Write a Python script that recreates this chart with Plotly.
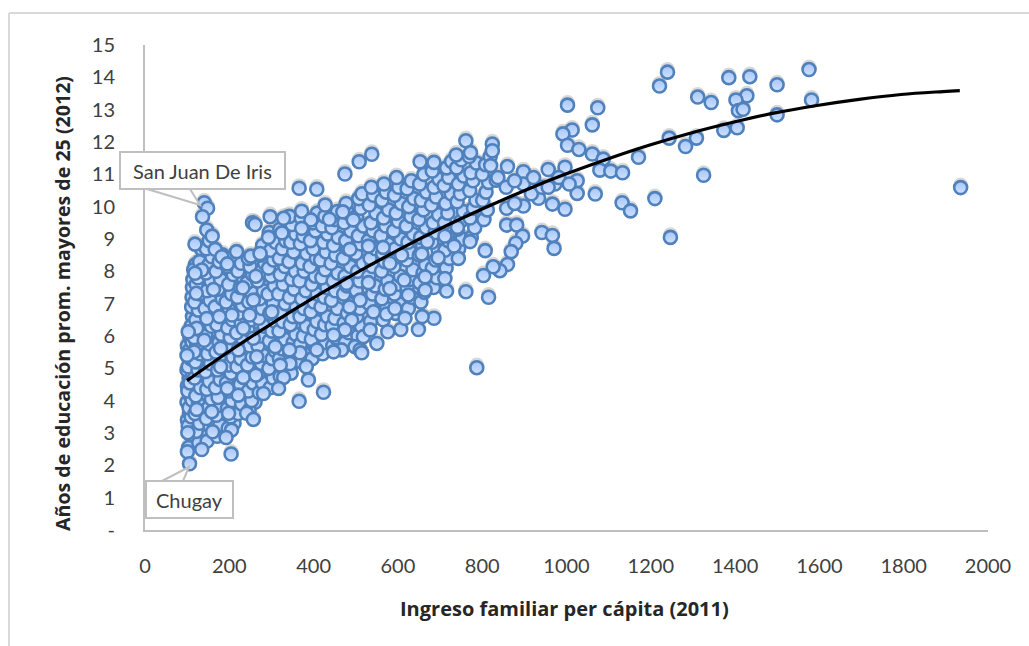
import plotly.graph_objects as go

# Points, grouped by region: (income, schooling)
right_tail = [(1244,14.16),(1225,13.73),(1390,13.99),(1440,14.02),(1505,13.77),(1581,14.24),(1316,13.39),(1348,13.22),(1433,13.43),(1407,13.3),(1413,12.97),(1424,13.01),(1587,13.3),(1505,12.84),(1248,12.12),(1313,12.12),(1287,11.86),(1378,12.36),(1410,12.44),(1175,11.53),(1137,11.05),(1330,10.97),(1136,10.12),(1156,9.87),(1214,10.25),(1251,9.05),(1942,10.59)]
mid_edge = [(1006,13.14),(1078,13.06),(1065,12.53),(1017,12.37),(995,12.25),(1006,11.9),(1033,11.77),(1065,11.63),(1091,11.47),(1083,11.13),(1109,11.1),(1029,10.8),(1029,10.41),(1072,10.39),(1000,9.92),(970,10.08),(937,10.26),(901,10.02),(861,9.95),(861,9.43),(885,9.43),(899,9.09),(883,8.87),(945,9.2),(970,9.11),(974,8.71),(872,8.61),(863,8.21),(845,8.02),(829,8.14),(806,7.87),(810,8.64),(818,7.2),(764,7.37),(790,5.02),(718,7.39),(714,7.78),(688,6.55),(660,6.6),(651,6.2),(609,6.2),(578,6.13),(536,6.19),(552,5.77),(516,5.48),(619,6.55),(764,12.04),(827,11.94),(827,11.73),(741,11.6),(775,11.67),(655,11.39),(688,11.37),(540,11.62),(510,11.39),(476,11.01),(863,11.24),(901,11.08),(960,11.15),(1000,11.22),(823,11.27),(836,10.82),(976,10.7),(901,10.7),(840,10.9),(860,10.6),(880,10.8),(920,10.4),(945,10.6),(985,10.9),(1010,10.7),(880,10.1),(925,10.9),(960,10.6)]
left_edge = [(141,10.12),(149,9.95),(137,9.69),(147,9.28),(160,9.09),(119,8.84),(167,8.68),(183,8.45),(218,8.61),(252,8.47),(274,8.55),(196,8.23),(264,7.85),(233,7.49),(258,7.11),(135,8.04),(119,7.94),(122,7.32),(163,7.44),(207,6.65),(249,6.65),(147,6.54),(177,6.6),(302,6.75),(123,6.24),(103,6.13),(234,6.24),(141,5.87),(180,5.62),(222,5.57),(117,5.51),(266,5.36),(180,5.05),(100,5.4),(234,4.72),(264,4.79),(330,4.72),(310,5.67),(389,4.64),(318,4.38),(282,4.22),(196,4.38),(222,4.17),(425,4.26),(367,3.98),(123,3.73),(159,3.66),(199,3.61),(242,3.61),(258,3.42),(206,3.09),(193,2.86),(161,3.04),(102,3.01),(135,2.49),(101,2.42),(205,2.35),(106,2.05),(256,9.5),(298,9.69),(330,9.64),(373,9.86),(367,10.57),(409,10.54),(429,10.05),(294,9.05),(326,9.19),(395,9.59),(373,9.33),(439,9.61),(471,9.84),(496,9.59),(262,9.45)]
left_extra = [(101,3.4),(106,3.62),(100,3.95),(108,4.15),(101,4.45),(105,4.7),(100,4.95),(108,5.18),(101,5.7),(107,5.95),(115,6.35),(113,6.6),(111,6.9),(112,7.2),(113,7.5),(114,7.75),(120,8.2),(115,3.1),(116,3.4),(115,3.9),(116,4.3),(114,4.6),(115,5.0),(116,5.35),(114,5.6),(136,3.0),(138,3.55),(137,3.95),(139,4.25),(136,4.7),(138,5.05),(137,5.35),(139,5.65),(135,6.1),(137,6.4),(138,6.7),(136,7.0),(139,7.25),(137,7.6),(140,7.85),(138,8.25),(140,8.55),(134,8.7),(163,3.35),(165,3.75),(162,4.2),(164,4.5),(163,4.85),(165,5.3),(162,5.6),(164,5.95),(163,6.2),(165,6.75),(162,7.05),(164,7.3),(163,7.9),(165,8.2),(188,3.4),(187,3.9),(189,4.3),(187,4.8),(188,5.4),(189,5.9),(187,6.4),(188,6.75),(189,7.3),(187,7.65),(188,8.05),(212,3.3),(213,3.75),(214,4.15),(212,4.6),(214,5.0),(213,5.45),(212,5.85),(214,6.3),(213,6.6),(212,7.1),(214,7.45),(213,7.7),(212,8.2),(238,3.75),(239,4.15),(237,4.6),(239,5.05),(238,5.5),(237,5.9),(239,6.35),(238,6.85),(237,7.15),(239,7.55),(238,8.0),(262,3.95),(263,4.4),(261,5.0),(263,5.5),(262,6.05),(261,6.6),(263,7.0),(262,7.5),(261,8.0),(263,8.3),(288,4.45),(289,4.95),(287,5.5),(289,6.0),(288,6.5),(287,7.0),(289,7.5),(288,8.05),(287,8.5),(312,4.9),(313,5.45),(315,6.0),(312,6.55),(314,7.1),(313,7.65),(315,8.2),(312,8.75),(338,5.3),(339,5.75),(337,6.3),(339,6.85),(338,7.4),(337,7.95),(339,8.5),(338,9.0),(363,5.6),(364,6.2),(362,6.75),(364,7.3),(363,7.85),(362,8.4),(364,8.95),(388,5.75),(390,6.5),(388,7.1),(389,7.65),(390,8.2),(388,8.8),(412,6.0),(414,6.6),(413,7.2),(412,7.75),(414,8.3),(413,8.9),(438,6.25),(440,6.9),(439,7.45),(438,8.0),(440,8.6),(439,9.2)]
band_100_200 = [(104,2.55),(108,2.95),(103,3.22),(110,3.5),(105,3.78),(112,4.02),(102,4.3),(107,4.55),(113,4.8),(103,5.05),(109,5.3),(105,5.55),(112,5.82),(104,6.1),(110,6.3),(128,2.7),(122,3.05),(130,3.3),(119,3.6),(127,3.9),(121,4.15),(132,4.4),(118,4.7),(126,4.95),(120,5.2),(131,5.45),(123,5.7),(117,5.95),(129,6.2),(121,6.5),(127,6.8),(118,7.05),(131,7.3),(122,7.6),(126,7.8),(116,8.05),(130,8.3),(148,2.75),(155,3.2),(146,3.45),(152,3.8),(158,4.05),(147,4.35),(153,4.6),(144,4.9),(156,5.15),(149,5.45),(154,5.75),(145,6.0),(158,6.3),(150,6.55),(143,6.85),(155,7.1),(148,7.4),(157,7.7),(145,7.95),(152,8.2),(159,8.45),(146,8.7),(153,8.95),(172,2.9),(178,3.25),(170,3.55),(181,3.85),(174,4.1),(168,4.4),(179,4.65),(173,4.95),(183,5.2),(169,5.5),(176,5.8),(182,6.05),(171,6.35),(178,6.65),(167,6.9),(184,7.15),(174,7.45),(180,7.75),(169,8.0),(177,8.3),(185,8.5)]
band_200_300 = [(198,3.15),(204,3.5),(196,3.75),(207,4.0),(200,4.3),(194,4.55),(205,4.85),(199,5.1),(209,5.35),(195,5.65),(203,5.95),(197,6.25),(208,6.5),(201,6.8),(193,7.05),(206,7.3),(199,7.6),(210,7.9),(196,8.15),(204,8.4),(222,3.6),(230,3.9),(220,4.25),(227,4.5),(233,4.8),(219,5.05),(228,5.3),(224,5.6),(234,5.85),(218,6.1),(229,6.4),(223,6.7),(232,6.95),(220,7.2),(227,7.5),(235,7.75),(221,8.0),(229,8.25),(248,3.7),(254,4.0),(246,4.3),(257,4.55),(250,4.85),(244,5.1),(255,5.35),(249,5.7),(259,5.95),(245,6.2),(252,6.5),(258,6.8),(247,7.05),(254,7.35),(243,7.65),(256,7.9),(250,8.15),(246,8.4),(272,4.25),(280,4.55),(270,4.85),(277,5.15),(283,5.4),(269,5.7),(276,6.0),(284,6.3),(271,6.55),(279,6.85),(273,7.15),(282,7.4),(268,7.7),(277,8.0),(285,8.25),(274,8.5),(280,8.8)]
band_300_500 = [(298,4.4),(305,4.7),(295,5.0),(303,5.3),(309,5.55),(296,5.85),(302,6.15),(310,6.45),(297,6.7),(305,7.0),(293,7.3),(308,7.55),(300,7.85),(294,8.1),(306,8.35),(299,8.65),(311,8.9),(296,9.2),(322,4.75),(330,5.0),(320,5.3),(327,5.6),(333,5.9),(319,6.15),(328,6.45),(323,6.75),(334,7.0),(318,7.3),(329,7.6),(322,7.9),(333,8.15),(320,8.4),(327,8.7),(335,8.95),(321,9.3),(348,4.85),(356,5.2),(345,5.45),(353,5.8),(359,6.05),(346,6.35),(352,6.6),(360,6.9),(344,7.2),(355,7.45),(349,7.75),(358,8.0),(343,8.3),(354,8.6),(347,8.9),(359,9.15),(350,9.45),(344,9.7),(372,5.2),(380,5.45),(370,5.75),(377,6.0),(384,6.3),(369,6.6),(378,6.85),(373,7.15),(383,7.4),(368,7.7),(379,8.0),(374,8.25),(385,8.55),(370,8.85),(377,9.1),(383,9.4),(372,9.65),(398,5.3),(405,5.65),(396,5.9),(403,6.2),(409,6.45),(395,6.75),(402,7.05),(410,7.3),(397,7.6),(405,7.85),(393,8.15),(408,8.4),(400,8.7),(394,8.95),(406,9.25),(399,9.5),(410,9.8),(423,5.45),(430,5.8),(420,6.05),(428,6.35),(434,6.6),(419,6.9),(427,7.2),(433,7.5),(421,7.8),(429,8.05),(418,8.35),(431,8.6),(425,8.9),(435,9.15),(422,9.4),(428,9.7),(447,5.7),(455,5.95),(445,6.3),(452,6.55),(458,6.85),(444,7.1),(453,7.4),(448,7.7),(459,7.95),(443,8.25),(454,8.5),(449,8.8),(460,9.05),(445,9.35),(452,9.6),(458,9.85),(477,5.8),(485,6.1),(474,6.4),(482,6.7),(488,7.0),(473,7.3),(481,7.55),(476,7.85),(489,8.15),(472,8.4),(483,8.7),(478,8.95),(490,9.25),(474,9.5),(484,9.8),(479,10.1)]
band_500_830 = [(507,6.0),(515,6.3),(504,6.6),(512,6.85),(518,7.15),(503,7.4),(511,7.7),(506,8.0),(519,8.25),(502,8.55),(513,8.85),(508,9.1),(520,9.4),(504,9.7),(514,9.95),(509,10.25),(517,10.4),(537,6.45),(545,6.75),(534,7.0),(542,7.3),(548,7.55),(533,7.85),(541,8.15),(536,8.4),(549,8.7),(532,8.95),(543,9.25),(538,9.5),(550,9.8),(534,10.05),(544,10.35),(539,10.6),(567,6.5),(575,6.85),(564,7.15),(572,7.45),(578,7.7),(563,8.0),(571,8.3),(566,8.55),(579,8.85),(562,9.1),(573,9.4),(568,9.65),(580,9.9),(564,10.2),(574,10.45),(569,10.7),(597,6.7),(605,7.0),(594,7.3),(602,7.6),(608,7.85),(593,8.15),(601,8.45),(596,8.7),(609,9.0),(592,9.25),(603,9.55),(598,9.8),(610,10.1),(594,10.35),(604,10.6),(599,10.9),(627,6.85),(635,7.2),(624,7.5),(632,7.75),(638,8.05),(623,8.35),(631,8.6),(626,8.9),(639,9.15),(622,9.4),(633,9.7),(628,10.0),(640,10.25),(624,10.55),(634,10.8),(657,7.05),(665,7.35),(654,7.65),(662,7.95),(668,8.2),(653,8.5),(661,8.8),(656,9.05),(669,9.35),(652,9.6),(663,9.9),(658,10.2),(670,10.45),(654,10.7),(664,11.0),(687,7.5),(695,7.8),(684,8.1),(692,8.35),(698,8.65),(683,8.9),(691,9.2),(686,9.5),(699,9.75),(682,10.05),(693,10.3),(688,10.6),(700,10.85),(684,11.1),(717,8.1),(725,8.4),(714,8.65),(722,8.95),(728,9.25),(713,9.5),(721,9.8),(716,10.1),(729,10.4),(712,10.65),(723,10.9),(718,11.2),(730,11.4),(747,8.7),(755,9.0),(744,9.3),(752,9.55),(758,9.85),(743,10.15),(751,10.4),(746,10.7),(759,10.95),(742,11.2),(753,11.45),(777,9.05),(785,9.35),(774,9.65),(782,9.95),(788,10.2),(773,10.5),(781,10.8),(776,11.05),(789,11.35),(772,11.55),(807,9.6),(815,9.9),(804,10.2),(812,10.45),(818,10.75),(803,11.0),(811,11.3),(822,11.55)]
core_over = [(744,9.36),(714,9.09),(774,8.92),(736,8.78),(672,8.92),(567,8.74),(532,8.78),(488,8.68),(659,8.54),(698,8.42),(583,8.25),(611,8.5),(746,8.4),(667,7.83),(617,7.73),(532,7.65),(583,7.47),(667,7.42),(627,7.27),(512,7.11),(480,7.63),(544,6.75),(575,6.68),(595,6.85),(492,6.49),(476,6.19),(487,6.9),(468,5.57),(500,5.67),(520,5.98),(449,6.03),(409,5.57),(449,5.51),(369,5.48),(344,5.57),(345,5.15),(384,5.05),(322,5.1),(258,5.93),(512,5.57)]

trend_x = [100,200,300,400,500,600,700,800,900,1000,1100,1200,1300,1400,1500,1600,1700,1800,1900,1940]
trend_y = [4.62,5.52,6.37,7.17,7.93,8.64,9.3,9.91,10.48,11.0,11.47,11.9,12.28,12.61,12.9,13.13,13.32,13.47,13.56,13.59]

x_ticks = [0,200,400,600,800,1000,1200,1400,1600,1800,2000]
y_ticks = list(range(0,16))
y_labels = ["-"] + [str(v) for v in range(1,16)]
x_title = "Ingreso familiar per cápita (2011)"
y_title = "Años de educación prom. mayores de 25 (2012)"

points = left_extra + band_100_200 + band_200_300 + band_300_500 + band_500_830 + core_over + left_edge + mid_edge + right_tail
READ_SCALE = 0.42 / 0.4215   # calibration of the x readings against the axis
xs = [p[0] * READ_SCALE for p in points]
ys = [p[1] for p in points]
trend_xs = [v * READ_SCALE for v in trend_x]

W, H = 1029, 646
L, R, T, B = 145, 988, 45, 530
FONT = "Lato"
GRID = "#bfbfbf"

def px(x): return (x - L) / (R - L)
def py(y): return (B - y) / (B - T)

fig = go.Figure()
# soft shadow: same data on a hidden axis whose range is shifted slightly
fig.add_trace(go.Scatter(x=xs, y=ys, mode="markers", yaxis="y", hoverinfo="skip",
    marker=dict(size=15, color="rgba(60,60,60,0.2)", line=dict(width=0))))
fig.add_trace(go.Scatter(x=xs, y=ys, mode="markers", yaxis="y2",
    marker=dict(size=13, color="#a6c6f8", gradient=dict(type="vertical", color="#cfe1ff"),
                line=dict(width=2.6, color="#4f81bd"))))
fig.add_trace(go.Scatter(x=trend_xs, y=trend_y, mode="lines", yaxis="y2",
    line=dict(color="#000000", width=3.2, shape="spline")))

shapes = [
    dict(type="line", xref="paper", yref="paper", x0=px(9), x1=px(1029), y0=py(13), y1=py(13), line=dict(color="#d9d9d9", width=2), layer="above"),
    dict(type="line", xref="paper", yref="paper", x0=px(9), x1=px(9), y0=py(13), y1=py(646), line=dict(color="#d9d9d9", width=2), layer="above"),
]
annotations = []
for txt, (x0, y0, x1, y1), wedge in [
    ("San Juan De Iris", (120,152,285,189), [(147,189),(200,205),(190,189)]),
    ("Chugay", (146,481,233,518), [(162,481),(189,467),(183,481)]),
]:
    path = "M %f %f L %f %f L %f %f Z" % (px(wedge[0][0]), py(wedge[0][1]), px(wedge[1][0]), py(wedge[1][1]), px(wedge[2][0]), py(wedge[2][1]))
    shapes.append(dict(type="path", xref="paper", yref="paper", path=path, fillcolor="white", line=dict(color=GRID, width=2), layer="above"))
    shapes.append(dict(type="rect", xref="paper", yref="paper", x0=px(x0), x1=px(x1), y0=py(y0), y1=py(y1), fillcolor="white", line=dict(color=GRID, width=2), layer="above"))
    annotations.append(dict(text=txt, xref="paper", yref="paper", x=px((x0+x1)/2), y=py((y0+y1)/2), showarrow=False,
                            font=dict(family=FONT, size=20, color="#404040"), xanchor="center", yanchor="middle"))
annotations.append(dict(text="<b>%s</b>" % x_title, xref="paper", yref="paper", x=px(564), y=py(608), showarrow=False,
                        font=dict(family="Open Sans", size=20, color="#262626"), xanchor="center", yanchor="middle"))
annotations.append(dict(text="<b>%s</b>" % y_title, xref="paper", yref="paper", x=px(62), y=py(304), textangle=-90, showarrow=False,
                        font=dict(family="Open Sans", size=19.6, color="#262626"), xanchor="center", yanchor="middle"))

fig.update_layout(
    width=W, height=H, autosize=False, showlegend=False,
    paper_bgcolor="white", plot_bgcolor="white",
    margin=dict(l=L, r=W-R, t=T, b=H-B, pad=0),
    shapes=shapes, annotations=annotations,
    font=dict(family=FONT, size=20, color="#404040"),
    xaxis=dict(range=[0, 2000], tickvals=x_ticks, showgrid=False, zeroline=False, showline=True,
               linecolor=GRID, linewidth=2, ticks="outside", ticklen=17, tickcolor="rgba(0,0,0,0)", tickfont=dict(size=20)),
    yaxis=dict(range=[-0.08, 14.92], visible=False, fixedrange=True),
    yaxis2=dict(range=[0, 15], overlaying="y", side="left", anchor="x", tickvals=y_ticks, ticktext=y_labels,
                showgrid=False, zeroline=False, showline=True, linecolor=GRID, linewidth=2, ticks="outside", ticklen=24,
                tickcolor="rgba(0,0,0,0)", tickfont=dict(size=20)),
)
fig.write_html("out.html", post_script="document.body.style.margin='0';document.body.style.overflow='hidden';", config={"displayModeBar": False})
